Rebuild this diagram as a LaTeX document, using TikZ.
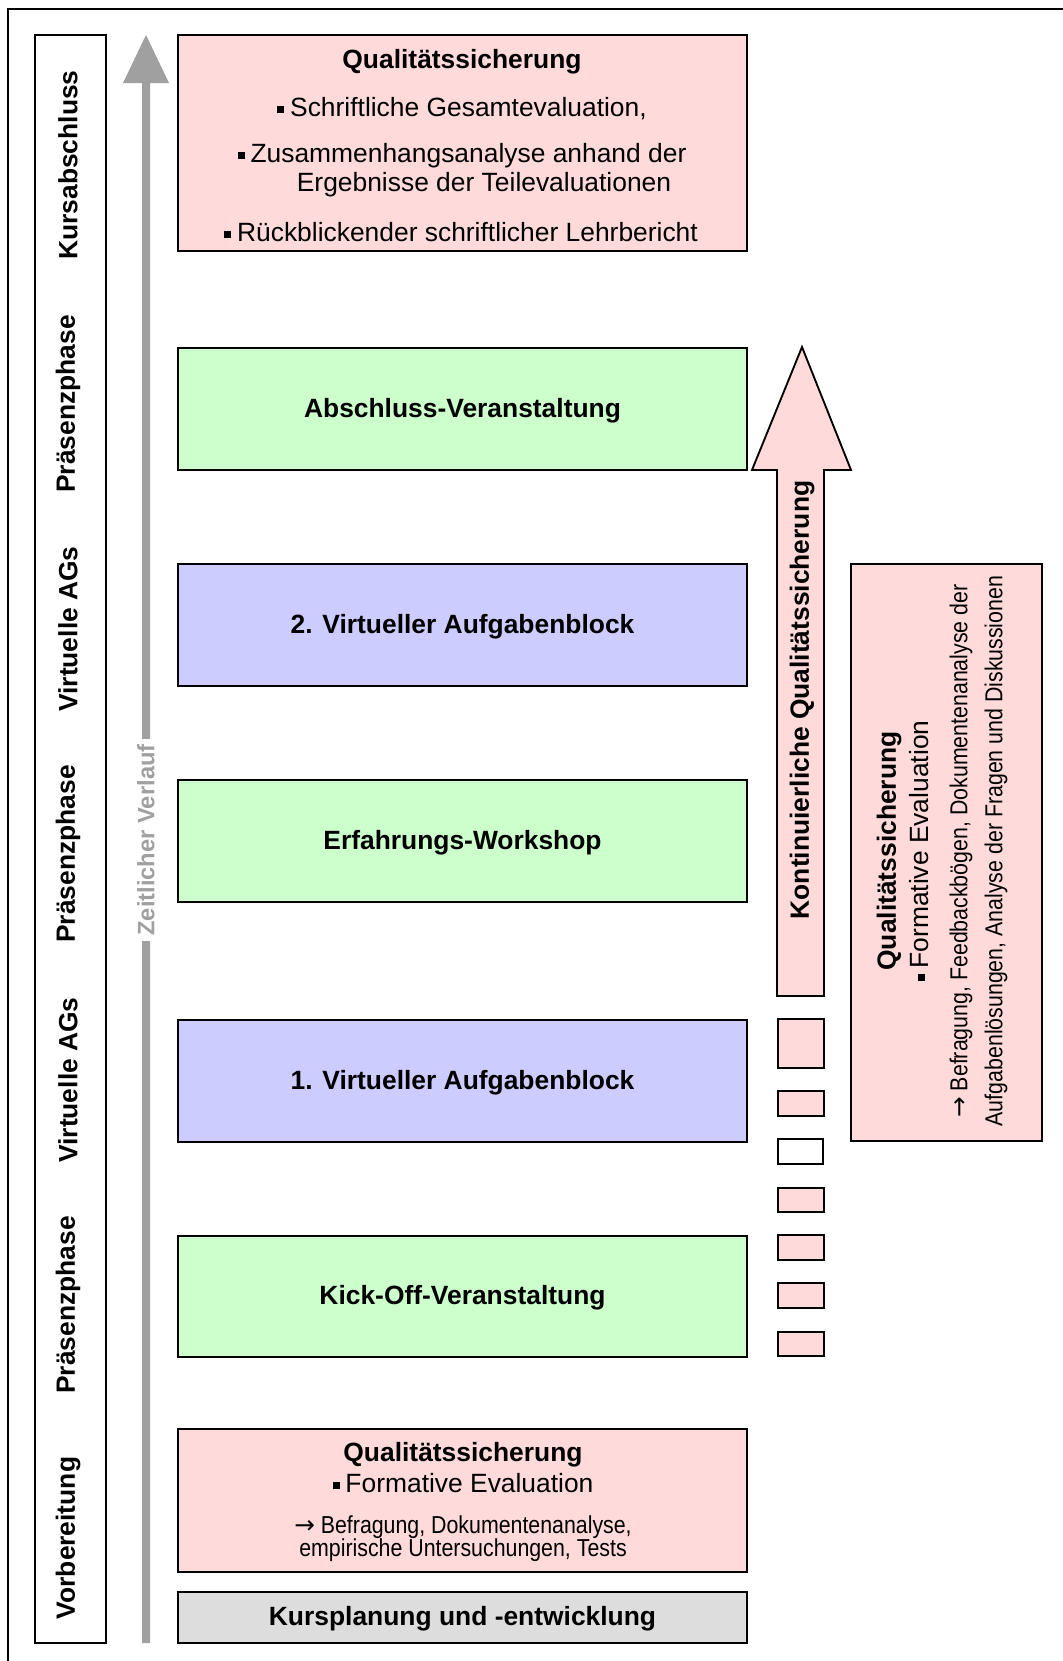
\documentclass[tikz,border=0pt]{standalone}
\usepackage{fontspec}
\setmainfont{Liberation Sans}
\newfontfamily\narrowfont[FakeStretch=0.87]{Liberation Sans}
\newfontfamily\arrowfont{DejaVu Sans}
\usetikzlibrary{fit}
\definecolor{qpink}{HTML}{FFDADA}
\definecolor{qgreen}{HTML}{CCFFCC}
\definecolor{qblue}{HTML}{CCCCFF}
\definecolor{qgray}{HTML}{DDDDDD}
\definecolor{arrowgray}{HTML}{A0A0A0}
\newcommand\fbig{\fontsize{19.8pt}{23pt}\selectfont}
\newcommand\fsmall{\narrowfont\fontsize{18.4pt}{21pt}\selectfont}
\newcommand\sqb{\raisebox{0.14em}{\rule{0.27em}{0.27em}}\hspace{0.22em}}
\newcommand\rarr{{\arrowfont\fontsize{18.5pt}{18.5pt}\selectfont →}}
\begin{document}
\begin{tikzpicture}[x=0.75pt,y=-0.75pt,
  outline/.style={draw=black, line width=1.4pt},
  boxbase/.style={outline, inner sep=0pt},
  pinkbox/.style={boxbase, fill=qpink},
  greenbox/.style={boxbase, fill=qgreen},
  bluebox/.style={boxbase, fill=qblue},
  graybox/.style={boxbase, fill=qgray},
  whitebox/.style={boxbase, fill=white},
  title/.style={font=\fbig\bfseries, inner sep=0pt},
  txt/.style={font=\fbig, inner sep=0pt},
  smalltxt/.style={font=\fsmall, inner sep=0pt},
  phase/.style={font=\fbig\bfseries, rotate=90, inner sep=0pt}]
\useasboundingbox (0,0) rectangle (1063,1661);
\fill[white] (0,0) rectangle (1063,1661);
% outer frame (open at right and bottom edges of page)
\draw[line width=1.5pt] (8,1670) -- (8,9) -- (1070,9);

% left phase column
\node[whitebox, fit={(35,35) (106,1643)}] (col) {};
\node[phase] (p1) at (68,165) {Kursabschluss};
\node[phase] (p2) at (68,404) {Präsenzphase};
\node[phase] (p3) at (68,629) {Virtuelle AGs};
\node[phase] (p4) at (68,854) {Präsenzphase};
\node[phase] (p5) at (68,1080) {Virtuelle AGs};
\node[phase] (p6) at (68,1305) {Präsenzphase};
\node[phase] (p7) at (68,1538) {Vorbereitung};

% time arrow
\fill[arrowgray] (142,1643) -- (142,83) -- (123,83) -- (146,35) -- (169,83) -- (150,83) -- (150,1643) -- cycle;
\node[font=\fontsize{17.8pt}{20pt}\selectfont\bfseries, text=arrowgray, fill=white,
  rotate=90, inner xsep=4pt, inner ysep=3pt] (zeit) at (146,840) {Zeitlicher Verlauf};

% main boxes
\node[pinkbox, fit={(178,35) (747,251)}] (qstop) {};
\node[title] (qt0) at (462,62) {Qualitätssicherung};
\node[txt] (qt1) at (462,109) {\sqb Schriftliche Gesamtevaluation,};
\node[txt] (qt2) at (462,156) {\sqb Zusammenhangsanalyse anhand der};
\node[txt] (qt3) at (484,185) {Ergebnisse der Teilevaluationen};
\node[txt] (qt4) at (461,232) {\sqb Rückblickender schriftlicher Lehrbericht};

\node[greenbox, fit={(178,348) (747,470)}] (abs) {};
\node[title] (abst) at ([yshift=-1pt]abs.center) {Abschluss-Veranstaltung};
\node[bluebox, fit={(178,564) (747,686)}] (va2) {};
\node[title] (va2t) at ([yshift=-1pt]va2.center) {2. Virtueller Aufgabenblock};
\node[greenbox, fit={(178,780) (747,902)}] (ew) {};
\node[title] (ewt) at ([yshift=-1pt]ew.center) {Erfahrungs-Workshop};
\node[bluebox, fit={(178,1020) (747,1142)}] (va1) {};
\node[title] (va1t) at ([yshift=-1pt]va1.center) {1. Virtueller Aufgabenblock};
\node[greenbox, fit={(178,1236) (747,1357)}] (ko) {};
\node[title] (kot) at ([yshift=-1pt]ko.center) {Kick-Off-Veranstaltung};

\node[pinkbox, fit={(178,1429) (747,1572)}] (qsbot) {};
\node[title] (qb0) at (463,1455) {Qualitätssicherung};
\node[txt] (qb1) at (463,1483) {\sqb Formative Evaluation};
\node[smalltxt] (qb2) at (463,1527) {\rarr\ Befragung, Dokumentenanalyse,};
\node[smalltxt] (qb3) at (463,1550) {empirische Untersuchungen, Tests};

\node[graybox, fit={(178,1592) (747,1643)}] (kp) {};
\node[title] (kpt) at ([yshift=-1pt]kp.center) {Kursplanung und -entwicklung};

% continuous quality arrow
\draw[outline, fill=qpink] (777,996) -- (777,470) -- (752,470) -- (802,347) -- (851,470) -- (824,470) -- (824,996) -- cycle;
\node[phase] (kq) at (802,700) {Kontinuierliche Qualitätssicherung};

% small squares
\node[pinkbox, fit={(778,1019) (824,1068)}] (s1) {};
\node[pinkbox, fit={(778,1091) (824,1116)}] (s2) {};
\node[whitebox, fit={(778,1139) (823,1164)}] (s3) {};
\node[pinkbox, fit={(778,1188) (824,1212)}] (s4) {};
\node[pinkbox, fit={(778,1235) (824,1260)}] (s5) {};
\node[pinkbox, fit={(778,1283) (824,1308)}] (s6) {};
\node[pinkbox, fit={(778,1332) (824,1356)}] (s7) {};

% right quality box
\node[pinkbox, fit={(851,564) (1042,1141)}] (qsr) {};
\node[title, rotate=90] (qr0) at (889,851) {Qualitätssicherung};
\node[txt, rotate=90] (qr1) at (919,851) {\sqb Formative Evaluation};
\node[smalltxt, rotate=90] (qr2) at (961,851) {\rarr\ Befragung, Feedbackbögen, Dokumentenanalyse der};
\node[smalltxt, rotate=90] (qr3) at (996,851) {Aufgabenlösungen, Analyse der Fragen und Diskussionen};
\end{tikzpicture}
\end{document}
